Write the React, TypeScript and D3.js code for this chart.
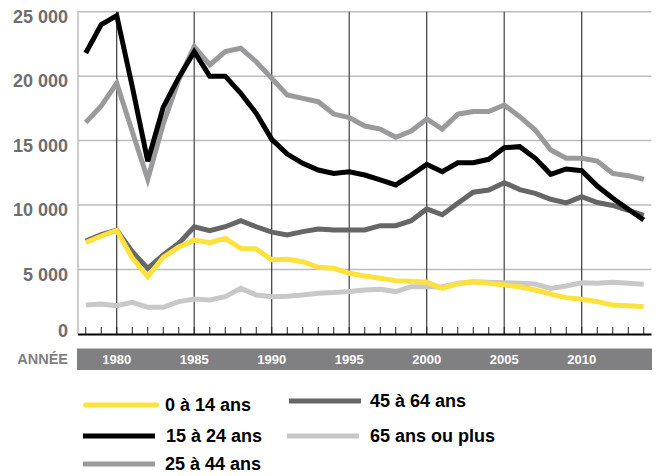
import React, { useEffect, useRef } from "react";
import * as d3 from "d3";

const years = d3.range(1978, 2015);

const age0to14 = [7100, 7600, 8050, 5900, 4450, 5950, 6750, 7280, 7080, 7420, 6640, 6600, 5760,
  5790, 5610, 5170, 5100, 4710, 4500, 4320, 4140, 4100, 4010, 3540, 3900, 4060,
  3930, 3800, 3670, 3410, 3100, 2820, 2690, 2510, 2250, 2200, 2120];
const age15to24 = [21800, 24000, 24700, 19200, 13400, 17600, 19900, 21900, 20000, 20000, 18670, 17120, 15100,
  13960, 13240, 12720, 12460, 12590, 12330, 11950, 11560, 12330, 13160, 12590, 13280, 13280,
  13550, 14450, 14530, 13630, 12390, 12800, 12670, 11480, 10530, 9670, 8840];
const age25to44 = [16400, 17690, 19450, 15700, 12000, 16300, 19700, 22300, 20870, 21900, 22160, 21120, 19830,
  18540, 18280, 18020, 17060, 16780, 16130, 15900, 15260, 15750, 16680, 15900, 17050, 17250,
  17250, 17760, 16860, 15820, 14270, 13630, 13630, 13420, 12460, 12280, 12000];
const age45to64 = [7200, 7700, 8050, 6380, 5090, 6130, 7030, 8320, 8010, 8320, 8790, 8320, 7900,
  7680, 7940, 8140, 8070, 8070, 8070, 8400, 8400, 8790, 9700, 9250, 10140, 11000,
  11170, 11740, 11200, 10910, 10450, 10170, 10650, 10200, 9970, 9600, 9200];
const age65plus = [2250, 2330, 2200, 2460, 2070, 2070, 2510, 2710, 2640, 2890, 3540, 3030, 2890,
  2920, 3030, 3160, 3210, 3290, 3410, 3470, 3290, 3670, 3670, 3650, 3930, 4060,
  4010, 3980, 3930, 3880, 3540, 3720, 3980, 3930, 4010, 3930, 3850];

const yTicks = [0, 5000, 10000, 15000, 20000, 25000];
const yTickLabels = ["0", "5 000", "10 000", "15 000", "20 000", "25 000"];
const yearLabels = [1980, 1985, 1990, 1995, 2000, 2005, 2010];

const seriesNames = ["0 à 14 ans", "15 à 24 ans", "25 à 44 ans", "45 à 64 ans", "65 ans ou plus"];
const seriesValues = [age0to14, age15to24, age25to44, age45to64, age65plus];
const colors = ["#fde13c", "#000000", "#9a9a9c", "#666666", "#c8c8c8"];

// drawing order: light ones first, black last
const drawOrder = [4, 2, 3, 0, 1];

const App = () => {
  const ref = useRef(null);

  useEffect(() => {
    const width = 659;
    const height = 476;
    const left = 78, right = 651.5, top = 11.7, bottom = 334;
    const font = "'Liberation Sans', Arial, sans-serif";

    const svg = d3.select(ref.current)
      .append("svg")
      .attr("width", width)
      .attr("height", height)
      .style("position", "absolute")
      .style("left", "0px")
      .style("top", "0px")
      .style("background", "#fff");

    const x = d3.scaleLinear().domain([1977.5, 2014.5]).range([left, right]);
    const y = d3.scaleLinear().domain([0, 25000]).range([bottom, top]);

    // horizontal grid
    svg.append("g")
      .selectAll("line")
      .data(yTicks.filter(d => d > 0))
      .enter()
      .append("line")
      .attr("x1", left)
      .attr("x2", right)
      .attr("y1", d => y(d))
      .attr("y2", d => y(d))
      .attr("stroke", "#bdbdbd")
      .attr("stroke-width", 1.5);

    // left border
    svg.append("line")
      .attr("x1", left).attr("x2", left)
      .attr("y1", top).attr("y2", bottom)
      .attr("stroke", "#bdbdbd")
      .attr("stroke-width", 1.5);

    // vertical year lines
    svg.append("g")
      .selectAll("line")
      .data(yearLabels)
      .enter()
      .append("line")
      .attr("x1", d => x(d))
      .attr("x2", d => x(d))
      .attr("y1", top)
      .attr("y2", bottom)
      .attr("stroke", (d, i) => (i % 2 === 0 ? "#111" : "#666"))
      .attr("stroke-width", (d, i) => (i % 2 === 0 ? 1 : 1.5));

    // y labels
    svg.append("g")
      .selectAll("text")
      .data(yTicks)
      .enter()
      .append("text")
      .attr("x", 68)
      .attr("y", d => (d === 0 ? y(d) + 3 : y(d) + 11))
      .attr("text-anchor", "end")
      .style("font-family", font)
      .style("font-weight", "bold")
      .style("font-size", "18px")
      .style("fill", "#6e6e6e")
      .text((d, i) => yTickLabels[i]);

    // lines
    const line = d3.line()
      .x((d, i) => x(years[i]))
      .y(d => y(d));

    svg.append("g")
      .selectAll("path")
      .data(drawOrder)
      .enter()
      .append("path")
      .attr("d", k => line(seriesValues[k]))
      .attr("fill", "none")
      .attr("stroke", k => colors[k])
      .attr("stroke-width", 5)
      .attr("stroke-linejoin", "miter")
      .attr("stroke-miterlimit", 4);

    // x axis and ticks
    svg.append("line")
      .attr("x1", left).attr("x2", right)
      .attr("y1", bottom + 0.5).attr("y2", bottom + 0.5)
      .attr("stroke", "#000")
      .attr("stroke-width", 2);

    svg.append("g")
      .selectAll("line")
      .data(years)
      .enter()
      .append("line")
      .attr("x1", d => x(d))
      .attr("x2", d => x(d))
      .attr("y1", bottom - 7)
      .attr("y2", bottom)
      .attr("stroke", "#222")
      .attr("stroke-width", 1);

    // year band
    svg.append("rect")
      .attr("x", left - 1)
      .attr("y", 348.5)
      .attr("width", right - left + 1.5)
      .attr("height", 21.5)
      .attr("fill", "#808083");

    svg.append("text")
      .attr("x", 68)
      .attr("y", 364)
      .attr("text-anchor", "end")
      .style("font-family", font)
      .style("font-weight", "bold")
      .style("font-size", "14.5px")
      .style("fill", "#808083")
      .text("ANNÉE");

    svg.append("g")
      .selectAll("text")
      .data(yearLabels)
      .enter()
      .append("text")
      .attr("x", d => x(d))
      .attr("y", 363.5)
      .attr("text-anchor", "middle")
      .style("font-family", font)
      .style("font-weight", "bold")
      .style("font-size", "13px")
      .style("fill", "#fff")
      .text(d => d);

    // legend
    const legendPos = [
      { x: 83, y: 405, tx: 165, w: 76 },
      { x: 83, y: 436, tx: 166, w: 72 },
      { x: 83, y: 464, tx: 165, w: 72 },
      { x: 289, y: 401, tx: 370, w: 72 },
      { x: 287, y: 436, tx: 370, w: 72 },
    ];

    const legend = svg.append("g")
      .selectAll("g")
      .data(seriesNames)
      .enter()
      .append("g");

    legend.append("line")
      .attr("x1", (d, i) => legendPos[i].x + (i === 0 ? 2.5 : 0))
      .attr("x2", (d, i) => legendPos[i].x + legendPos[i].w - (i === 0 ? 2.5 : 0))
      .attr("y1", (d, i) => legendPos[i].y)
      .attr("y2", (d, i) => legendPos[i].y)
      .attr("stroke", (d, i) => colors[i])
      .attr("stroke-width", 5)
      .attr("stroke-linecap", (d, i) => (i === 0 ? "round" : "butt"));

    legend.append("text")
      .attr("x", (d, i) => legendPos[i].tx)
      .attr("y", (d, i) => legendPos[i].y + 6)
      .style("font-family", font)
      .style("font-weight", "bold")
      .style("font-size", "18px")
      .style("fill", "#000")
      .text(d => d);

    return () => {
      d3.select(ref.current).selectAll("svg").remove();
    };
  }, []);

  return <div ref={ref}></div>;
};

export default App;
